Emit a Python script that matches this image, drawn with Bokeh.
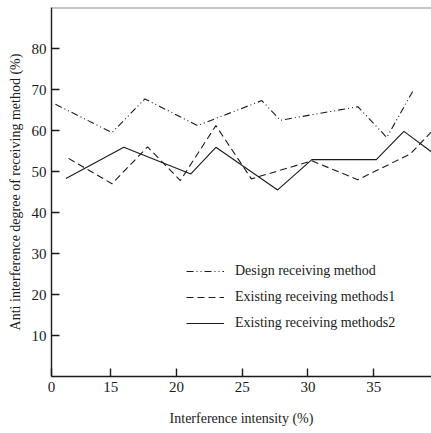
from bokeh.embed import file_html
from bokeh.resources import INLINE
from bokeh.plotting import figure
from bokeh.models import Range1d, FixedTicker, Legend, LegendItem, Span

# Interference intensity (%) and anti-interference degree (%) for each method
design_x = [10.8, 15.1, 17.6, 21.6, 26.5, 27.9, 33.8, 36.0, 38.0]
design_y = [66.4, 59.5, 67.7, 61.2, 67.3, 62.5, 65.8, 58.3, 69.7]

existing1_x = [11.8, 15.1, 17.8, 20.3, 23.0, 25.7, 30.3, 33.8, 37.8, 39.4]
existing1_y = [53.2, 47.0, 56.0, 47.8, 61.2, 48.2, 52.6, 48.0, 54.3, 59.7]

existing2_x = [11.6, 16.0, 21.1, 23.0, 27.7, 30.3, 35.2, 37.3, 39.4]
existing2_y = [48.3, 55.9, 49.4, 55.9, 45.5, 52.9, 52.9, 59.8, 54.8]

series_names = ["Design receiving method",
                "Existing receiving methods1",
                "Existing receiving methods2"]

x_ticks = [10.5, 15, 20, 25, 30, 35]
x_tick_labels = ["0", "15", "20", "25", "30", "35"]
y_ticks = [10, 20, 30, 40, 50, 60, 70, 80]

FONT = "Liberation Serif"
INK = "#1a1a1a"

p = figure(width=431, height=433,
           x_range=Range1d(10.5, 39.4), y_range=Range1d(0, 90),
           output_backend="svg", toolbar_location=None,
           min_border_left=51, min_border_right=0,
           min_border_top=7, min_border_bottom=57)

p.grid.visible = False
p.outline_line_color = None
p.background_fill_color = "white"
p.border_fill_color = "white"

# thin grey rule along the top of the plotting area
p.add_layout(Span(location=90, dimension="width",
                  line_color="#8c8c8c", line_width=2))

xa = p.xaxis[0]
xa.ticker = FixedTicker(ticks=x_ticks)
xa.major_label_overrides = {t: s for t, s in zip(x_ticks, x_tick_labels)}
xa.axis_label = "Interference intensity (%)"
xa.axis_label_standoff = 16
ya = p.yaxis[0]
ya.ticker = FixedTicker(ticks=y_ticks)
ya.axis_label = "Anti interference degree of receiving method (%)"
ya.axis_label_standoff = 6

for ax in (xa, ya):
    ax.major_tick_in = 8
    ax.major_tick_out = 0
    ax.minor_tick_line_color = None
    ax.axis_line_color = INK
    ax.axis_line_width = 1.4
    ax.major_tick_line_color = INK
    ax.major_tick_line_width = 1.4
    ax.major_label_text_font = FONT
    ax.major_label_text_font_size = "15px"
    ax.major_label_text_color = INK
    ax.major_label_standoff = 5
    ax.axis_label_text_font = FONT
    ax.axis_label_text_font_size = "14px"
    ax.axis_label_text_font_style = "normal"
    ax.axis_label_text_color = INK

r_design = p.line(design_x, design_y, line_color=INK, line_width=1.1,
                  line_dash="7 3 1 3 1 3")
r_ex1 = p.line(existing1_x, existing1_y, line_color=INK, line_width=1.1,
               line_dash="7 4")
r_ex2 = p.line(existing2_x, existing2_y, line_color=INK, line_width=1.1)

legend = Legend(items=[LegendItem(label=series_names[0], renderers=[r_design]),
                       LegendItem(label=series_names[1], renderers=[r_ex1]),
                       LegendItem(label=series_names[2], renderers=[r_ex2])],
                location=(135, 43), glyph_width=38, glyph_height=20,
                label_height=20, spacing=6, padding=0, margin=0,
                label_standoff=11, border_line_color=None,
                background_fill_alpha=0,
                label_text_font=FONT, label_text_font_size="14px",
                label_text_color=INK)
p.add_layout(legend)

open("out.html", "w").write(file_html(p, INLINE))
